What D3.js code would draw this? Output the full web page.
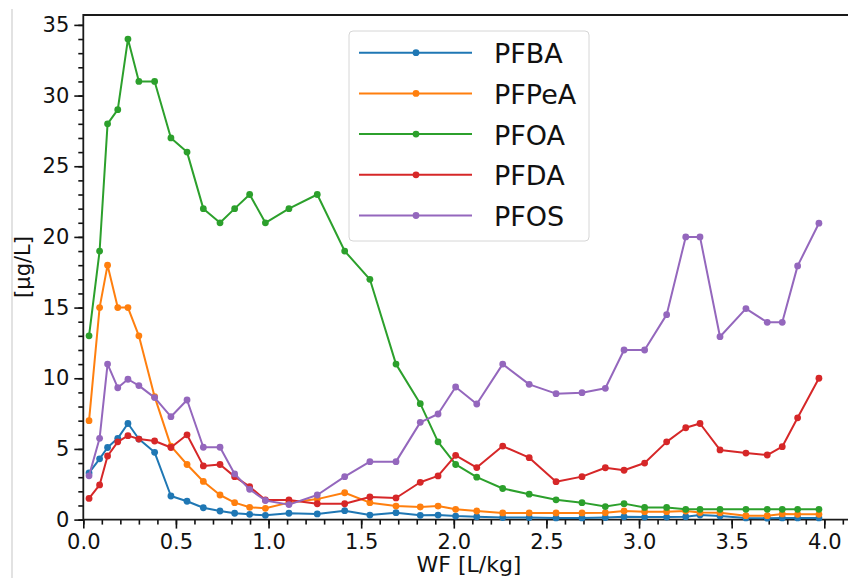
<!DOCTYPE html>
<html>
<head>
<meta charset="utf-8">
<script src="https://cdn.jsdelivr.net/npm/d3@7/dist/d3.min.js"></script>
<style>
  html, body { margin: 0; padding: 0; background: #fff; }
  svg { display: block; font-family: "DejaVu Sans", sans-serif; }
</style>
</head>
<body>
<svg id="chart" width="848" height="578"></svg>
<script>
// Water/feed ratio samples [L/kg]
const wf = [0.031, 0.088, 0.131, 0.186, 0.241, 0.30, 0.385, 0.473, 0.56, 0.648,
            0.738, 0.817, 0.898, 0.983, 1.11, 1.263, 1.411, 1.547, 1.688, 1.819,
            1.915, 2.01, 2.124, 2.264, 2.407, 2.552, 2.692, 2.818, 2.919, 3.03,
            3.149, 3.252, 3.329, 3.437, 3.577, 3.692, 3.773, 3.856, 3.971];

// Concentrations [µg/L]
const pfba  = [3.3, 4.3, 5.1, 5.75, 6.8, 5.7, 4.76, 1.67, 1.3, 0.84,
               0.61, 0.45, 0.37, 0.3, 0.45, 0.4, 0.63, 0.32, 0.49, 0.3,
               0.32, 0.25, 0.2, 0.15, 0.15, 0.12, 0.12, 0.15, 0.2, 0.18,
               0.18, 0.2, 0.32, 0.26, 0.12, 0.1, 0.12, 0.12, 0.12];
const pfpea = [7.0, 15.0, 18.0, 15.0, 15.0, 13.0, 8.7, 5.2, 3.9, 2.7,
               1.74, 1.2, 0.87, 0.8, 1.2, 1.45, 1.9, 1.2, 0.96, 0.89,
               0.96, 0.73, 0.61, 0.47, 0.47, 0.47, 0.47, 0.49, 0.61, 0.56,
               0.56, 0.6, 0.5, 0.49, 0.28, 0.28, 0.4, 0.37, 0.37];
const pfoa  = [13.0, 19.0, 28.0, 29.0, 34.0, 31.0, 31.0, 27.0, 26.0, 22.0,
               21.0, 22.0, 23.0, 21.0, 22.0, 23.0, 19.0, 17.0, 11.0, 8.2,
               5.5, 3.9, 3.0, 2.2, 1.8, 1.4, 1.2, 0.92, 1.13, 0.86,
               0.86, 0.73, 0.73, 0.73, 0.73, 0.73, 0.73, 0.73, 0.73];
const pfda  = [1.5, 2.45, 4.5, 5.5, 5.94, 5.7, 5.56, 5.1, 6.0, 3.8,
               3.9, 3.04, 2.33, 1.39, 1.39, 1.12, 1.12, 1.6, 1.53, 2.64,
               3.09, 4.55, 3.68, 5.2, 4.38, 2.68, 3.04, 3.67, 3.49, 4.0,
               5.5, 6.5, 6.8, 4.93, 4.71, 4.57, 5.16, 7.2, 10.0];
const pfos  = [3.1, 5.75, 11.0, 9.33, 9.93, 9.48, 8.63, 7.28, 8.46, 5.12,
               5.12, 3.23, 2.14, 1.35, 1.06, 1.74, 3.04, 4.1, 4.1, 6.88,
               7.47, 9.38, 8.18, 11.0, 9.57, 8.91, 8.98, 9.29, 12.0, 12.0,
               14.5, 20.0, 20.0, 12.94, 14.93, 13.96, 13.96, 17.95, 20.97];

const seriesNames  = ["PFBA", "PFPeA", "PFOA", "PFDA", "PFOS"];
const seriesValues = [pfba, pfpea, pfoa, pfda, pfos];
const colors = ["#1f77b4", "#ff7f0e", "#2ca02c", "#d62728", "#9467bd"];

const xMajor = d3.range(0, 4.01, 0.5);
const xMinor = d3.range(0, 4.11, 0.1);
const yMajor = d3.range(0, 36, 5);
const yMinor = d3.range(0, 36, 1);

const svg = d3.select("#chart");
const plotLeft = 83.3, plotBottom = 519.6, plotTop = 15;
const x = d3.scaleLinear().domain([0, 4.2]).range([plotLeft, plotLeft + 4.2 * 185.25]);
const y = d3.scaleLinear().domain([0, 35.7]).range([plotBottom, plotTop]);

// thin frame line at the far left of the canvas
svg.append("line").attr("x1", 12).attr("x2", 12).attr("y1", 9).attr("y2", 578)
  .attr("stroke", "#cfcfcf").attr("stroke-width", 1.2);

// axes
const xAxisMinor = d3.axisBottom(x).tickValues(xMinor).tickSize(5).tickFormat("");
const xAxisMajor = d3.axisBottom(x).tickValues(xMajor).tickSize(9).tickPadding(5)
  .tickFormat(d3.format(".1f"));
const yAxisMinor = d3.axisLeft(y).tickValues(yMinor).tickSize(5).tickFormat("");
const yAxisMajor = d3.axisLeft(y).tickValues(yMajor).tickSize(9).tickPadding(5)
  .tickFormat(d3.format("d"));

function styleAxis(g) {
  g.select(".domain").remove();
  g.selectAll(".tick line").attr("stroke", "#111").attr("stroke-width", 1.6);
  g.selectAll(".tick text").attr("fill", "#111").style("font-size", "21px")
    .style("font-family", "DejaVu Sans, sans-serif");
}

svg.append("g").attr("transform", `translate(0,${plotBottom})`).call(xAxisMinor).call(styleAxis);
svg.append("g").attr("transform", `translate(0,${plotBottom})`).call(xAxisMajor).call(styleAxis);
svg.append("g").attr("transform", `translate(${plotLeft},0)`).call(yAxisMinor).call(styleAxis);
svg.append("g").attr("transform", `translate(${plotLeft},0)`).call(yAxisMajor).call(styleAxis);

// spines
const spineEnd = x(4.2);
svg.append("path")
  .attr("d", `M${spineEnd},${plotTop} L${plotLeft},${plotTop} L${plotLeft},${plotBottom} L${spineEnd},${plotBottom}`)
  .attr("fill", "none").attr("stroke", "#1a1a1a").attr("stroke-width", 1.8);

// series lines with markers
const line = d3.line().x((d, i) => x(wf[i])).y(d => y(d));
seriesValues.forEach((vals, k) => {
  const g = svg.append("g");
  g.append("path").datum(vals).attr("d", line)
    .attr("fill", "none").attr("stroke", colors[k]).attr("stroke-width", 2)
    .attr("stroke-linejoin", "round");
  g.selectAll("circle").data(vals).join("circle")
    .attr("cx", (d, i) => x(wf[i])).attr("cy", d => y(d)).attr("r", 3.4)
    .attr("fill", colors[k]);
});

// axis labels
svg.append("text").attr("x", 469).attr("y", 572).attr("text-anchor", "middle")
  .style("font-size", "22px").attr("fill", "#111").text("WF [L/kg]");
svg.append("text").attr("transform", "translate(29.5,267) rotate(-90)")
  .attr("text-anchor", "middle").style("font-size", "21px").attr("fill", "#111")
  .text("[µg/L]");

// legend
const lg = svg.append("g");
lg.append("rect").attr("x", 349).attr("y", 31).attr("width", 240).attr("height", 210)
  .attr("rx", 4).attr("fill", "#fff").attr("fill-opacity", 0.8)
  .attr("stroke", "#d6d6d6").attr("stroke-width", 1);
seriesNames.forEach((name, k) => {
  const ry = 52.7 + k * 40.7;
  lg.append("line").attr("x1", 359).attr("x2", 472).attr("y1", ry).attr("y2", ry)
    .attr("stroke", colors[k]).attr("stroke-width", 2);
  lg.append("circle").attr("cx", 416).attr("cy", ry).attr("r", 3.4).attr("fill", colors[k]);
  lg.append("text").attr("x", 494).attr("y", ry + 10.6).style("font-size", "27px")
    .attr("fill", "#111").text(name);
});
</script>
</body>
</html>
